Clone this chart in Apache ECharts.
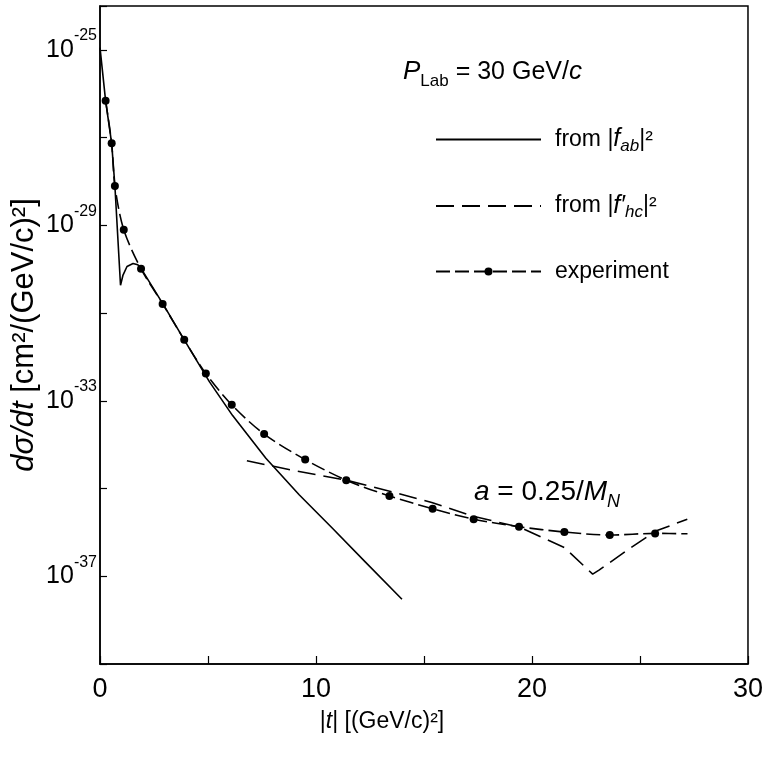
<!DOCTYPE html>
<html>
<head>
<meta charset="utf-8">
<script src="https://cdn.jsdelivr.net/npm/echarts@6/dist/echarts.min.js"></script>
<style>
  html, body { margin: 0; padding: 0; background: #fff; }
  #chart { width: 766px; height: 758px; }
</style>
</head>
<body>
<div id="chart"></div>
<script>
  // |t| in (GeV/c)^2, dsigma/dt in cm^2/(GeV/c)^2
  var tExp = [0.26, 0.54, 0.69, 1.1, 1.9, 2.9, 3.9, 4.9, 6.1, 7.6, 9.5, 11.4, 13.4, 15.4, 17.3, 19.4, 21.5, 23.6, 25.7, 27.2];
  var sigExp = [6.9e-27, 7.4e-28, 7.9e-29, 7.9e-30, 1.02e-30, 1.62e-31, 2.45e-32, 4.17e-33, 8.1e-34, 1.74e-34,
                4.57e-35, 1.55e-35, 6.76e-36, 3.47e-36, 2.0e-36, 1.35e-36, 1.02e-36, 8.7e-37, 9.5e-37, 9.3e-37];
  var expMeasured = 19; // last entry is only the end of the drawn curve

  var tAb = [0, 0.26, 0.54, 0.69, 0.95, 1.06, 1.25, 1.53, 1.75, 1.92, 2.92, 3.9, 5.07, 6.14, 7.68, 9.22, 10.75, 12.29, 13.98];
  var sigAb = [1.12e-25, 6.9e-27, 7.4e-28, 7.9e-29, 4.3e-31, 7.2e-31, 1.15e-30, 1.35e-30, 1.26e-30, 1.0e-30,
               1.6e-31, 2.45e-32, 2.7e-33, 4.6e-34, 4.9e-35, 7.2e-36, 1.26e-36, 2.1e-37, 3.0e-38];

  var tHc = [6.8, 9.1, 11.4, 13.41, 15.36, 17.33, 19.45, 21.5, 22.81, 23.12, 24.58, 25.73, 27.19];
  var sigHc = [4.3e-35, 2.5e-35, 1.55e-35, 8.7e-36, 4.8e-36, 2.3e-36, 1.3e-36, 4.5e-37, 1.12e-37, 1.4e-37, 4.5e-37, 1.07e-36, 2.0e-36];

  // powers of ten on the left axis
  var yMinExp = -39, yMaxExp = -24, yTickStep = 2;
  var yLabelExps = [-25, -29, -33, -37];
  var xLabelVals = [0, 10, 20, 30];

  function pairs(xs, ys) {
    return xs.map(function (x, i) { return [x, ys[i]]; });
  }

  var font = 'Liberation Sans';
  var blk = '#000';
  var chart = echarts.init(document.getElementById('chart'));
  chart.setOption({
    animation: false,
    backgroundColor: '#fff',
    textStyle: { fontFamily: font, color: blk },
    title: [
      {
        text: '{i|P}{sub|Lab}{n| = 30 GeV/}{i|c}',
        left: 398,
        top: 49,
        textStyle: {
          fontWeight: 'normal',
          rich: {
            i: { fontFamily: font, fontSize: 26, fontStyle: 'italic', fontWeight: 'normal', color: blk, lineHeight: 36 },
            sub: { fontFamily: font, fontSize: 17, fontWeight: 'normal', color: blk, verticalAlign: 'bottom', lineHeight: 17 },
            n: { fontFamily: font, fontSize: 25, fontWeight: 'normal', color: blk, lineHeight: 36 }
          }
        }
      },
      {
        text: '{i|a}{n| = 0.25/}{i|M}{sub|N}',
        left: 469,
        top: 468,
        textStyle: {
          fontWeight: 'normal',
          rich: {
            i: { fontFamily: font, fontSize: 28, fontStyle: 'italic', fontWeight: 'normal', color: blk, lineHeight: 38 },
            sub: { fontFamily: font, fontSize: 18, fontStyle: 'italic', fontWeight: 'normal', color: blk, verticalAlign: 'bottom', lineHeight: 18 },
            n: { fontFamily: font, fontSize: 28, fontWeight: 'normal', color: blk, lineHeight: 38 }
          }
        }
      }
    ],
    legend: {
      orient: 'vertical',
      left: 430,
      top: 122,
      itemWidth: 105,
      itemHeight: 10,
      itemGap: 39,
      selectedMode: false,
      data: [
        { name: 'ab', itemStyle: { opacity: 0 } },
        { name: 'hc', itemStyle: { opacity: 0 } },
        { name: 'exp' }
      ],
      formatter: function (name) {
        if (name === 'ab') return '{n|from |}{i|f}{sub|ab}{n||²}';
        if (name === 'hc') return '{n|from |}{i|f′}{sub|hc}{n||²}';
        return '{n|experiment}';
      },
      textStyle: {
        padding: [0, 0, 0, 9],
        rich: {
          n: { fontFamily: font, fontSize: 23, color: blk, lineHeight: 30 },
          i: { fontFamily: font, fontSize: 25, fontStyle: 'italic', color: blk, lineHeight: 30 },
          sub: { fontFamily: font, fontSize: 17, fontStyle: 'italic', color: blk, verticalAlign: 'bottom', lineHeight: 17 }
        }
      }
    },
    grid: {
      left: 100,
      right: 15,
      top: 6,
      bottom: 94,
      show: true,
      borderColor: blk,
      borderWidth: 1.5,
      backgroundColor: 'transparent'
    },
    xAxis: {
      type: 'value',
      min: 0,
      max: 30,
      interval: 5,
      name: '|{i|t}| [(GeV/c)²]',
      nameLocation: 'middle',
      nameGap: 46,
      nameTextStyle: {
        fontFamily: font,
        fontSize: 23,
        color: blk,
        padding: [0, 84, 0, 0],
        rich: {
          i: { fontFamily: font, fontSize: 23, fontStyle: 'italic', color: blk }
        }
      },
      axisLine: { lineStyle: { color: blk, width: 1.5 } },
      axisTick: { inside: true, length: 8, lineStyle: { color: blk, width: 1.2 } },
      axisLabel: {
        formatter: function (v) { return xLabelVals.indexOf(v) >= 0 ? String(v) : ''; },
        fontFamily: font,
        fontSize: 27,
        color: blk,
        margin: 12,
        showMinLabel: true,
        showMaxLabel: true
      },
      splitLine: { show: false }
    },
    yAxis: [
      {
        // data axis: logarithmic cross-section
        type: 'log',
        logBase: 10,
        min: Math.pow(10, yMinExp),
        max: Math.pow(10, yMaxExp),
        position: 'left',
        name: '{i|dσ/dt} [cm²/(GeV/c)²]',
        nameLocation: 'middle',
        nameGap: 60,
        nameTextStyle: {
          fontFamily: font,
          fontSize: 31,
          color: blk,
          rich: {
            i: { fontFamily: font, fontSize: 31, fontStyle: 'italic', color: blk }
          }
        },
        axisLine: { show: true, lineStyle: { color: blk, width: 1.5 } },
        axisTick: { show: false },
        axisLabel: { show: false },
        splitLine: { show: false },
        minorTick: { show: false }
      },
      {
        // same decades as exponents, only for ticks and labels
        type: 'value',
        min: yMinExp,
        max: yMaxExp,
        interval: yTickStep,
        position: 'left',
        axisLine: { show: false },
        axisTick: { show: true, inside: true, length: 7, lineStyle: { color: blk, width: 1.2 } },
        axisLabel: {
          margin: 3,
          showMinLabel: true,
          showMaxLabel: true,
          formatter: function (v) {
            return yLabelExps.indexOf(v) >= 0 ? '{b|10}{s|' + v + '}' : '';
          },
          rich: {
            b: { fontFamily: font, fontSize: 25, color: blk, lineHeight: 44 },
            s: { fontFamily: font, fontSize: 16, color: blk, verticalAlign: 'top', lineHeight: 16 }
          }
        },
        splitLine: { show: false }
      }
    ],
    series: [
      {
        name: 'ab',
        type: 'line',
        yAxisIndex: 0,
        data: pairs(tAb, sigAb),
        symbol: 'none',
        smooth: false,
        lineStyle: { color: blk, width: 1.6, type: 'solid' },
        itemStyle: { color: blk },
        z: 3
      },
      {
        name: 'hc',
        type: 'line',
        yAxisIndex: 0,
        data: pairs(tHc, sigHc),
        symbol: 'none',
        smooth: false,
        lineStyle: { color: blk, width: 1.6, type: [18, 8] },
        itemStyle: { color: blk },
        z: 3
      },
      {
        name: 'exp',
        type: 'line',
        yAxisIndex: 0,
        data: pairs(tExp, sigExp),
        symbol: 'circle',
        symbolSize: function (v, p) { return p.dataIndex < expMeasured ? 8 : 0; },
        showAllSymbol: true,
        smooth: 0.3,
        lineStyle: { color: blk, width: 1.6, type: [14, 5] },
        itemStyle: { color: blk },
        z: 4
      }
    ]
  });
</script>
</body>
</html>
